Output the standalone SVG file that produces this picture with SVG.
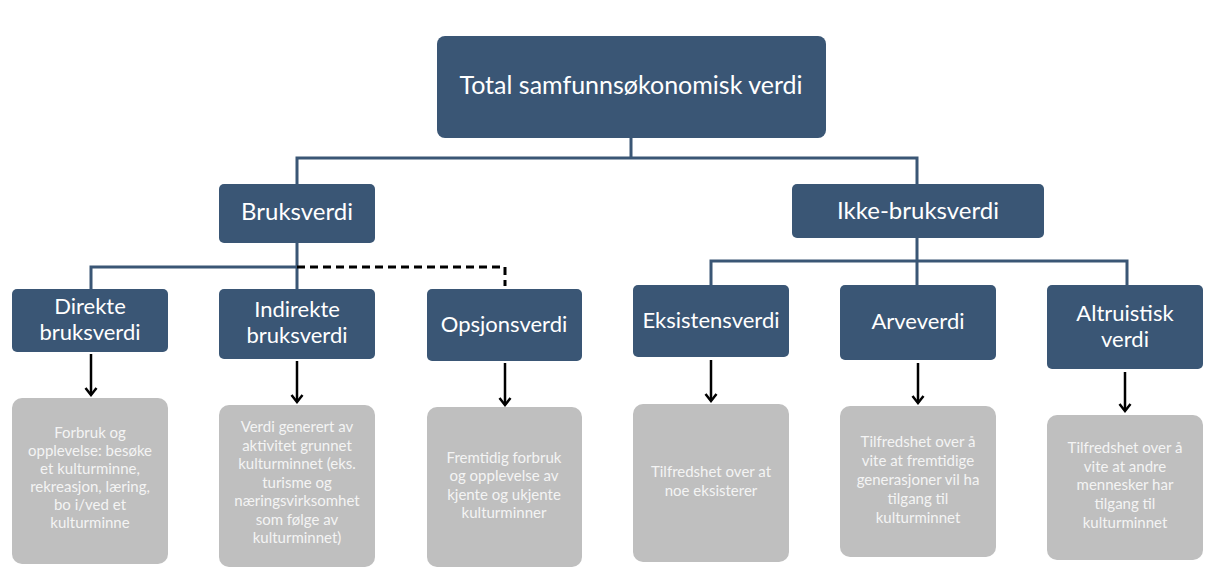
<svg xmlns="http://www.w3.org/2000/svg" width="1210" height="581" viewBox="0 0 1210 581">
<style>
.dark{fill:#3A5675}
.gray{fill:#BFBFBF}
.t{font-family:Lato,"Open Sans",sans-serif;fill:#FFFFFF;text-anchor:middle}
.big{font-size:25px}
.lv2{font-size:24px}
.mid{font-size:22px}
.sm{font-family:Lato,"Open Sans",sans-serif;fill:#F4F4F4;text-anchor:middle;font-size:15px}
.con{stroke:#3A5675;stroke-width:3;fill:none}
.dash{stroke:#000;stroke-width:3;fill:none;stroke-dasharray:8,5}
.arr{stroke:#000;stroke-width:2.5;fill:none;marker-end:url(#ah)}
</style>
<defs>
<marker id="ah" markerWidth="14" markerHeight="14" refX="12" refY="7" orient="auto" markerUnits="userSpaceOnUse" viewBox="0 0 14 14">
<path d="M5,1.5 L12,7 L5,12.5" stroke="#000" stroke-width="2.5" fill="none"/>
</marker>
</defs>
<rect width="1210" height="581" fill="#FFFFFF"/>
<g id="connectors">
<path class="con" d="M631,138 V158 M297,184 V158 H917 V184"/>
<path class="con" d="M297,243 V289 M91,289 V267 H297"/>
<path class="dash" d="M297,267 H505 V286"/>
<path class="con" d="M917,238 V261 M711,285 V261 H1127 V285 M917,261 V285"/>
<line class="arr" x1="91" y1="354" x2="91" y2="395"/>
<line class="arr" x1="297" y1="361" x2="297" y2="402"/>
<line class="arr" x1="505" y1="363" x2="505" y2="405"/>
<line class="arr" x1="711" y1="360" x2="711" y2="401"/>
<line class="arr" x1="918" y1="363" x2="918" y2="403"/>
<line class="arr" x1="1125" y1="372" x2="1125" y2="411"/>
</g>
<g id="total"><rect class="dark" x="437" y="36" width="389" height="102" rx="8"/><text class="t big" x="631" y="94">Total samfunnsøkonomisk verdi</text></g>
<g id="bruksverdi"><rect class="dark" x="219" y="184" width="156" height="59" rx="5"/><text class="t lv2" x="297" y="220">Bruksverdi</text></g>
<g id="ikke-bruksverdi"><rect class="dark" x="792" y="184" width="252" height="54" rx="5"/><text class="t lv2" x="918" y="219">Ikke-bruksverdi</text></g>
<g id="direkte"><rect class="dark" x="12" y="289" width="156" height="63" rx="5"/><text class="t mid" x="90" y="314">Direkte</text><text class="t mid" x="90" y="340">bruksverdi</text></g>
<g id="indirekte"><rect class="dark" x="219" y="289" width="156" height="70" rx="5"/><text class="t mid" x="297" y="317">Indirekte</text><text class="t mid" x="297" y="343">bruksverdi</text></g>
<g id="opsjon"><rect class="dark" x="427" y="289" width="155" height="72" rx="5"/><text class="t mid" x="504" y="332">Opsjonsverdi</text></g>
<g id="eksistens"><rect class="dark" x="633" y="285" width="156" height="72" rx="5"/><text class="t mid" x="711" y="328">Eksistensverdi</text></g>
<g id="arve"><rect class="dark" x="840" y="285" width="156" height="75" rx="5"/><text class="t mid" x="918" y="329">Arveverdi</text></g>
<g id="altruistisk"><rect class="dark" x="1047" y="285" width="156" height="84" rx="5"/><text class="t mid" x="1125" y="321">Altruistisk</text><text class="t mid" x="1125" y="347">verdi</text></g>
<g id="direkte-desc"><rect class="gray" x="12" y="398" width="156" height="166" rx="10"/>
<text class="sm" x="90"><tspan x="90" y="438">Forbruk og</tspan><tspan x="90" y="456">opplevelse: besøke</tspan><tspan x="90" y="474">et kulturminne,</tspan><tspan x="90" y="492">rekreasjon, læring,</tspan><tspan x="90" y="510">bo i/ved et</tspan><tspan x="90" y="528">kulturminne</tspan></text></g>
<g id="indirekte-desc"><rect class="gray" x="219" y="405" width="156" height="162" rx="10"/>
<text class="sm" x="297"><tspan x="297" y="432">Verdi generert av</tspan><tspan x="297" y="451">aktivitet grunnet</tspan><tspan x="297" y="469">kulturminnet (eks.</tspan><tspan x="297" y="488">turisme og</tspan><tspan x="297" y="506">næringsvirksomhet</tspan><tspan x="297" y="525">som følge av</tspan><tspan x="297" y="543">kulturminnet)</tspan></text></g>
<g id="opsjon-desc"><rect class="gray" x="427" y="407" width="155" height="160" rx="10"/>
<text class="sm" x="504"><tspan x="504" y="463">Fremtidig forbruk</tspan><tspan x="504" y="481">og opplevelse av</tspan><tspan x="504" y="500">kjente og ukjente</tspan><tspan x="504" y="518">kulturminner</tspan></text></g>
<g id="eksistens-desc"><rect class="gray" x="633" y="404" width="156" height="158" rx="10"/>
<text class="sm" x="711"><tspan x="711" y="477">Tilfredshet over at</tspan><tspan x="711" y="496">noe eksisterer</tspan></text></g>
<g id="arve-desc"><rect class="gray" x="840" y="406" width="156" height="151" rx="10"/>
<text class="sm" x="918"><tspan x="918" y="447">Tilfredshet over å</tspan><tspan x="918" y="466">vite at fremtidige</tspan><tspan x="918" y="485">generasjoner vil ha</tspan><tspan x="918" y="504">tilgang til</tspan><tspan x="918" y="523">kulturminnet</tspan></text></g>
<g id="altruistisk-desc"><rect class="gray" x="1047" y="415" width="156" height="145" rx="10"/>
<text class="sm" x="1125"><tspan x="1125" y="453">Tilfredshet over å</tspan><tspan x="1125" y="472">vite at andre</tspan><tspan x="1125" y="490">mennesker har</tspan><tspan x="1125" y="509">tilgang til</tspan><tspan x="1125" y="528">kulturminnet</tspan></text></g>
</svg>
